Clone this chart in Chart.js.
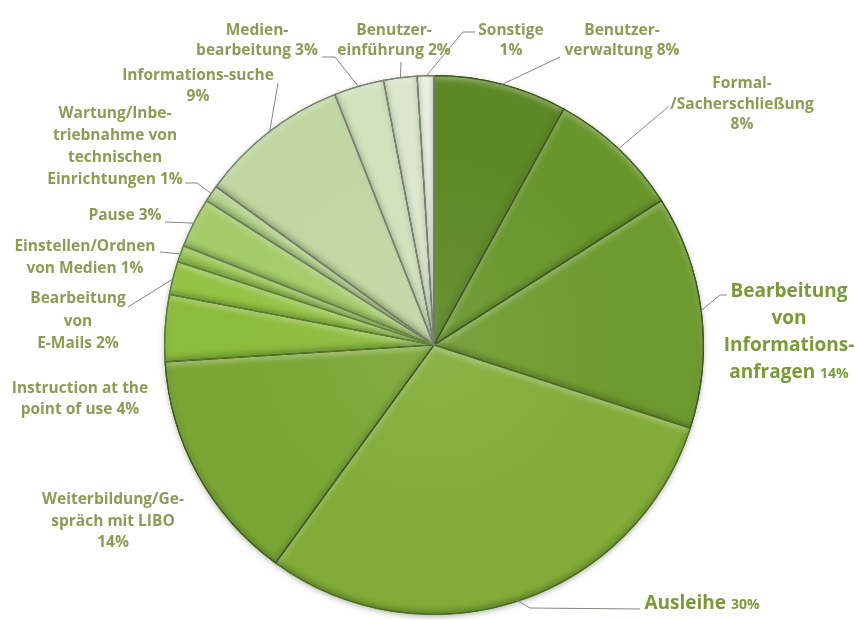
<!DOCTYPE html>
<html>
<head>
<meta charset="utf-8">
<script src="https://cdn.jsdelivr.net/npm/chart.js@4"></script>
<style>
  html, body { margin: 0; padding: 0; background: #fff; }
  #wrap { width: 855px; height: 620px; }
</style>
</head>
<body>
<div id="wrap"><canvas id="pie" width="855" height="620"></canvas></div>
<script>
// a trailing "\n" puts the percentage on its own line
const categories = [
  'Benutzer-\nverwaltung',
  'Formal-\n/Sacherschließung\n',
  'Bearbeitung\nvon\nInformations-\nanfragen',
  'Ausleihe',
  'Weiterbildung/Ge-\nspräch mit LIBO\n',
  'Instruction at the\npoint of use',
  'Bearbeitung\nvon\nE-Mails',
  'Einstellen/Ordnen\nvon Medien',
  'Pause',
  'Wartung/Inbe-\ntriebnahme von\ntechnischen\nEinrichtungen',
  'Informations-suche\n',
  'Medien-\nbearbeitung',
  'Benutzer-\neinführung',
  'Sonstige\n'
];
const shares = [8, 8, 14, 30, 14, 4, 2, 1, 3, 1, 9, 3, 2, 1];

const sliceColors = [
  '#5c8825', '#68962b', '#6e9b2f', '#82ac38', '#79a634', '#8cbc3c', '#94c445',
  '#9ac656', '#a6cc6a', '#b4d48a', '#c1d7a2', '#d1e2bd', '#dbe7cd', '#e9f0e0'
];
const edgeColors = [
  '#3d5e18', '#3d5e18', '#3d5e18', '#4f7220', '#3f6018', '#5a7f2a', '#5f8530',
  '#64883a', '#6c8a4c', '#72866a', '#76846c', '#7a8672', '#7a8672', '#7a8672'
];
const bigLabels = [2, 3];

// label centre x, first line y, line height
const labelSpots = [
  [622, 31, 20], [742, 84, 20.5], [789, 292, 27], [702, 604, 27],
  [113, 500, 21.5], [80, 389, 21], [78, 299, 22.5], [85, 247, 22],
  [125, 216, 20], [115, 114, 22], [198, 76, 21], [257, 31, 20],
  [394, 31, 20], [511, 31, 20]
];
// leader line start (and bend) points, ending on the slice rim
const leaderPoints = [
  [[560, 57]], [[668, 107]], [[727, 295], [720, 295]], [[640, 609], [530, 608]],
  null, null, [[128, 307]], [[160, 252]], [[165, 222]],
  [[185, 183], [197, 183]], [[278, 83]], [[322, 57], [335, 57]],
  [[401, 62]], [[475, 32], [463, 32]]
];

function mix(hex, t) {
  const n = parseInt(hex.slice(1), 16);
  const r = n >> 16, g = (n >> 8) & 255, b = n & 255;
  const f = c => Math.round(c + (255 - c) * t);
  return `rgb(${f(r)},${f(g)},${f(b)})`;
}

function sliceFill(context) {
  const chart = context.chart;
  const area = chart.chartArea;
  const base = sliceColors[context.dataIndex];
  if (!area) return base;
  const cx = (area.left + area.right) / 2;
  const cy = (area.top + area.bottom) / 2;
  const r = Math.min(area.right - area.left, area.bottom - area.top) / 2;
  const g = chart.ctx.createRadialGradient(cx, cy, 0, cx, cy, r);
  g.addColorStop(0, mix(base, 0.08));
  g.addColorStop(0.7, base);
  g.addColorStop(1, base);
  return g;
}

function arcPath(ctx, p) {
  ctx.beginPath();
  ctx.moveTo(p.x, p.y);
  ctx.arc(p.x, p.y, p.outerRadius, p.startAngle, p.endAngle);
  ctx.closePath();
}

const pieShadow = {
  id: 'pieShadow',
  beforeDatasetsDraw(chart) {
    const arc = chart.getDatasetMeta(0).data[0];
    if (!arc) return;
    const p = arc.getProps(['x', 'y', 'outerRadius'], true);
    const ctx = chart.ctx;
    ctx.save();
    ctx.shadowColor = 'rgba(40,50,20,0.45)';
    ctx.shadowBlur = 6;
    ctx.shadowOffsetY = 2;
    ctx.fillStyle = '#6f9430';
    ctx.beginPath();
    ctx.arc(p.x, p.y, p.outerRadius - 0.5, 0, Math.PI * 2);
    ctx.fill();
    ctx.restore();
  }
};

// soft inner light along upper edges, darker along lower edges
const bevel = {
  id: 'bevel',
  afterDatasetsDraw(chart) {
    const ctx = chart.ctx;
    chart.getDatasetMeta(0).data.forEach((arc, i) => {
      const p = arc.getProps(['x', 'y', 'startAngle', 'endAngle', 'outerRadius'], true);
      [['rgba(255,255,255,0.4)', 3], ['rgba(30,50,10,0.4)', -3]].forEach(([col, dy]) => {
        ctx.save();
        arcPath(ctx, p);
        ctx.clip();
        ctx.beginPath();
        ctx.rect(-2000, -2000, 5000, 5000);
        ctx.moveTo(p.x, p.y);
        ctx.arc(p.x, p.y, p.outerRadius, p.startAngle, p.endAngle);
        ctx.closePath();
        ctx.shadowColor = col;
        ctx.shadowBlur = 6;
        ctx.shadowOffsetY = dy;
        ctx.fillStyle = '#000';
        ctx.fill('evenodd');
        ctx.restore();
      });
      ctx.save();
      arcPath(ctx, p);
      ctx.strokeStyle = edgeColors[i];
      ctx.lineWidth = 1.2;
      ctx.stroke();
      ctx.restore();
    });
  }
};

const sliceLabels = {
  id: 'sliceLabels',
  afterDatasetsDraw(chart) {
    const ctx = chart.ctx;
    const arcs = chart.getDatasetMeta(0).data;
    ctx.save();
    ctx.strokeStyle = '#85887c';
    ctx.lineWidth = 1;
    arcs.forEach((arc, i) => {
      const pts = leaderPoints[i];
      if (!pts) return;
      const p = arc.getProps(['x', 'y', 'startAngle', 'endAngle', 'outerRadius'], true);
      const mid = (p.startAngle + p.endAngle) / 2;
      ctx.beginPath();
      ctx.moveTo(pts[0][0], pts[0][1]);
      pts.slice(1).forEach(q => ctx.lineTo(q[0], q[1]));
      ctx.lineTo(p.x + Math.cos(mid) * (p.outerRadius - 1), p.y + Math.sin(mid) * (p.outerRadius - 1));
      ctx.stroke();
    });

    const smallFont = 'bold 15.5px "Open Sans"';
    const bigFont = 'bold 19px "Open Sans"';
    ctx.textBaseline = 'middle';
    ctx.textAlign = 'left';
    categories.forEach((name, i) => {
      const [cx, y0, lh] = labelSpots[i];
      const big = bigLabels.includes(i);
      const lines = name.split('\n');
      const pct = shares[i] + '%';
      ctx.fillStyle = big ? '#7a9938' : '#8b9c55';
      lines.forEach((line, k) => {
        const y = y0 + k * lh;
        const last = k === lines.length - 1;
        const textFont = big ? bigFont : smallFont;
        if (!last) {
          ctx.font = textFont;
          ctx.fillText(line, cx - ctx.measureText(line).width / 2, y);
          return;
        }
        if (line === '') {
          ctx.font = smallFont;
          ctx.fillText(pct, cx - ctx.measureText(pct).width / 2, y);
          return;
        }
        ctx.font = textFont;
        const w1 = ctx.measureText(line + ' ').width;
        ctx.font = big ? 'bold 14px "Open Sans"' : smallFont;
        const w2 = ctx.measureText(pct).width;
        const x = cx - (w1 + w2) / 2;
        ctx.font = textFont;
        ctx.fillText(line + ' ', x, y);
        ctx.font = big ? 'bold 14px "Open Sans"' : smallFont;
        ctx.fillText(pct, x + w1, y + (big ? 1 : 0));
      });
    });
    ctx.restore();
  }
};

new Chart(document.getElementById('pie'), {
  type: 'pie',
  data: {
    labels: categories.map(c => c.replace(/\n/g, ' ').trim()),
    datasets: [{
      data: shares,
      backgroundColor: sliceFill,
      borderColor: edgeColors,
      borderWidth: 1.2
    }]
  },
  options: {
    responsive: false,
    animation: false,
    layout: { padding: { top: 75, bottom: 5, left: 164, right: 151 } },
    plugins: {
      legend: { display: false },
      tooltip: { enabled: false }
    }
  },
  plugins: [pieShadow, bevel, sliceLabels]
});
</script>
</body>
</html>
